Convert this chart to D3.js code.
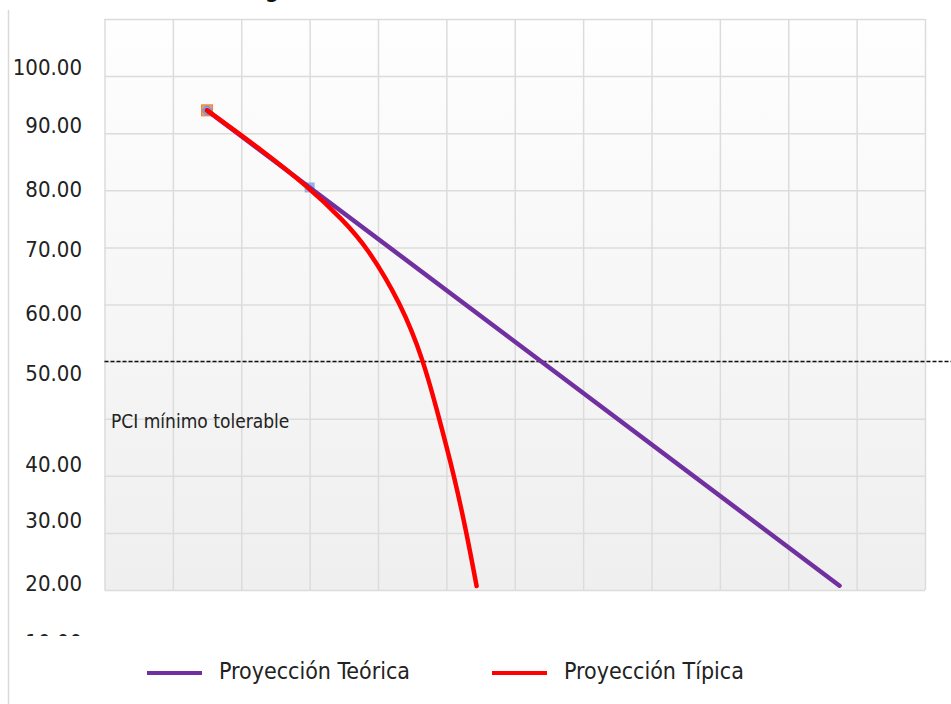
<!DOCTYPE html>
<html>
<head>
<meta charset="utf-8">
<script src="https://cdn.jsdelivr.net/npm/d3@7"></script>
<style>
  html, body { margin: 0; padding: 0; background: #ffffff; }
  svg { display: block; }
</style>
</head>
<body>
<svg id="chart" width="951" height="704"></svg>
<script>
// ---------------- data ----------------
const xGridValues = d3.range(0, 13);              // 12 unlabeled periods
const yGridValues = d3.range(10, 111, 10);        // grid rows 10..110

const yTickLabels = ["100.00", "90.00", "80.00", "70.00", "60.00", "50.00", "40.00", "30.00", "20.00", "10.00"];
const yTickAt     = [101.6, 91.3, 80.2, 69.6, 58.5, 48.0, 31.9, 22.1, 11.2, 0.9];

const seriesNames  = ["Proyección Teórica", "Proyección Típica"];
const teoricaX = [1.5, 3.0, 10.75];
const teoricaY = [94.0, 80.5, 10.75];
const tipicaX  = [1.5, 2.25, 3.0, 3.487, 3.838, 4.335, 4.664, 4.898, 5.11, 5.292, 5.442];
const tipicaY  = [94.0, 87.5, 80.4, 74.8, 70.1, 60.2, 50.3, 39.9, 30.2, 20.2, 10.7];

const observedX = [1.5, 3.0];
const observedY = [94.0, 80.5];

const pciMin = 50;
const pciLabel = "PCI mínimo tolerable";

// ---------------- layout ----------------
const svg = d3.select("#chart");
const W = 951, H = 704;
const plot = { left: 104.5, top: 19, right: 925, bottom: 590 };

const x = d3.scaleLinear().domain([0, 12]).range([plot.left, plot.right]);
const y = d3.scaleLinear().domain([10, 110]).range([plot.bottom, plot.top]);

const FONT = "'DejaVu Sans Condensed', 'DejaVu Sans', sans-serif";
const colors = ["#7030a0", "#ff0000"];

// background gradient
const defs = svg.append("defs");
const grad = defs.append("linearGradient").attr("id", "bg")
  .attr("x1", 0).attr("y1", 0).attr("x2", 0).attr("y2", 1);
grad.append("stop").attr("offset", "0%").attr("stop-color", "#fefefe");
grad.append("stop").attr("offset", "100%").attr("stop-color", "#efefef");

defs.append("clipPath").attr("id", "labelClip")
  .append("rect").attr("x", 0).attr("y", 0).attr("width", 104).attr("height", 636);

// cut-off title fragment
svg.append("text").attr("x", 272).attr("y", -2)
  .attr("text-anchor", "middle")
  .attr("font-family", FONT).attr("font-weight", "bold").attr("font-size", 22)
  .attr("fill", "#111").text("g");

// left frame line
svg.append("line").attr("x1", 8.5).attr("x2", 8.5).attr("y1", 10).attr("y2", H)
  .attr("stroke", "#d9d9d9").attr("stroke-width", 1.5);

// plot background
svg.append("rect")
  .attr("x", plot.left).attr("y", plot.top)
  .attr("width", plot.right - plot.left).attr("height", plot.bottom - plot.top)
  .attr("fill", "url(#bg)");

// vertical grid
svg.append("g").attr("transform", `translate(0,${plot.bottom})`)
  .call(d3.axisBottom(x).tickValues(xGridValues).tickSize(-(plot.bottom - plot.top)).tickFormat(""))
  .call(g => g.select(".domain").remove())
  .call(g => g.selectAll(".tick line").attr("stroke", "#dcdcdc").attr("stroke-width", 1.5));

// horizontal grid
svg.append("g").attr("transform", `translate(${plot.left},0)`)
  .call(d3.axisLeft(y).tickValues(yGridValues).tickSize(-(plot.right - plot.left)).tickFormat(""))
  .call(g => g.select(".domain").remove())
  .call(g => g.selectAll(".tick line").attr("stroke", "#dcdcdc").attr("stroke-width", 1.5));

// y labels
svg.append("g").attr("clip-path", "url(#labelClip)")
  .append("g").attr("transform", "translate(85,0)")
  .call(d3.axisLeft(y).tickValues(yTickAt).tickSize(0).tickPadding(3)
        .tickFormat((d, i) => yTickLabels[i]))
  .call(g => g.select(".domain").remove())
  .call(g => g.selectAll("text")
      .attr("font-family", FONT).attr("font-size", 22).attr("fill", "#222"));

// threshold line
svg.append("line")
  .attr("x1", plot.left).attr("x2", W)
  .attr("y1", y(pciMin)).attr("y2", y(pciMin))
  .attr("stroke", "#111").attr("stroke-width", 1.5)
  .attr("stroke-dasharray", "4,2");

svg.append("text")
  .attr("x", 111).attr("y", y(pciMin) + 66)
  .attr("font-family", FONT).attr("font-size", 19).attr("fill", "#222")
  .text(pciLabel);

// observed markers
const obs = observedX.map((v, i) => [v, observedY[i]]);
svg.append("rect")
  .attr("x", x(obs[0][0]) - 5.5).attr("y", y(obs[0][1]) - 5.5)
  .attr("width", 11).attr("height", 11)
  .attr("fill", "#f0a066").attr("stroke", "#e3823c").attr("stroke-width", 1);
svg.append("circle")
  .attr("cx", x(obs[0][0])).attr("cy", y(obs[0][1])).attr("r", 4.2)
  .attr("fill", "#8aa6de").attr("stroke", "#6f8fd0").attr("stroke-width", 1);
svg.append("rect")
  .attr("x", x(obs[1][0]) - 5).attr("y", y(obs[1][1]) - 5)
  .attr("width", 10).attr("height", 10)
  .attr("fill", "#92b2e6");

// lines
const line = d3.line().x(d => x(d[0])).y(d => y(d[1]));
const teorica = teoricaX.map((v, i) => [v, teoricaY[i]]);
const tipica = tipicaX.map((v, i) => [v, tipicaY[i]]);

svg.append("path").datum(teorica)
  .attr("d", line.curve(d3.curveLinear))
  .attr("fill", "none").attr("stroke", colors[0]).attr("stroke-width", 4.5)
  .attr("stroke-linecap", "round");

svg.append("path").datum(tipica)
  .attr("d", line.curve(d3.curveBasis))
  .attr("fill", "none").attr("stroke", colors[1]).attr("stroke-width", 4.5)
  .attr("stroke-linecap", "round");

// legend
const legendX = [147, 492];
const lg = svg.append("g");
seriesNames.forEach((name, i) => {
  lg.append("line")
    .attr("x1", legendX[i]).attr("x2", legendX[i] + 55)
    .attr("y1", 673).attr("y2", 673)
    .attr("stroke", colors[i]).attr("stroke-width", 4);
  lg.append("text")
    .attr("x", legendX[i] + 72).attr("y", 679)
    .attr("font-family", FONT).attr("font-size", 23).attr("fill", "#222")
    .text(name);
});
</script>
</body>
</html>
